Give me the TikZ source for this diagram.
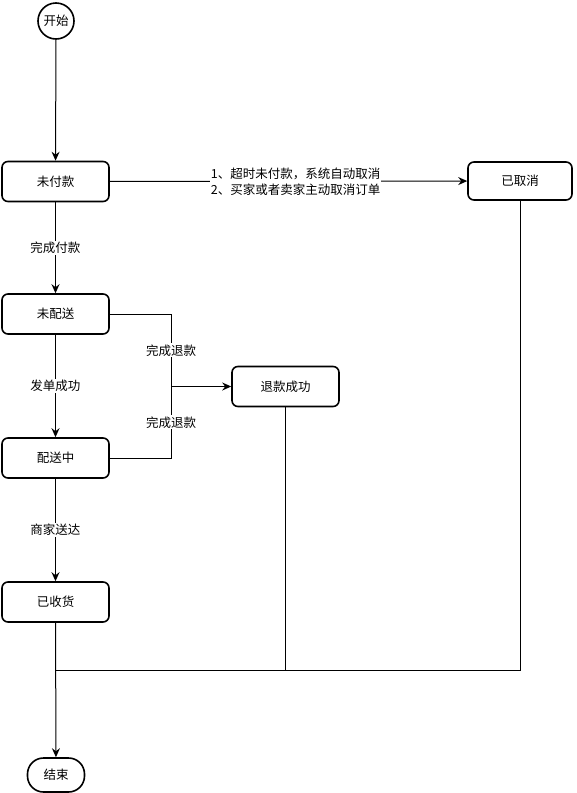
\documentclass[tikz,border=0pt]{standalone}
\usepackage{fontspec}
\setmainfont{Noto Sans CJK SC}
\usetikzlibrary{arrows.meta}
\begin{document}
\begin{tikzpicture} [
  x=1pt, y=-1pt,
  font=\fontsize{12.5}{16}\selectfont,
  state node/.style= {draw,line width=1.6pt,rounded corners=6pt,minimum width=107pt,minimum height=40pt},
  start node/.style= {draw,line width=1.6pt,circle,minimum size=36pt,inner sep=0},
  end node/.style= {draw,line width=1.6pt,rounded corners=16pt,minimum width=57pt,minimum height=34pt},
  flow/.style= {line width=1pt,-{Stealth[length=9pt,width=8pt,inset=3pt]}},
  link/.style= {line width=1pt},
  lbl/.style= {fill=white,inner sep=1pt},
]
\useasboundingbox (0,0) rectangle (576,793);
\node (S) [start node] at (56,21) {开始};
\node (A1) [state node] at (55.5,181.5) {未付款};
\node (C) [state node,minimum width=104pt,minimum height=38pt] at (520,181) {已取消};
\node (A2) [state node] at (55.5,314) {未配送};
\node (A3) [state node] at (55.5,458) {配送中};
\node (R) [state node] at (285.5,386.5) {退款成功};
\node (A4) [state node] at (55.5,602) {已收货};
\node (E) [end node] at (56,775) {结束};
\coordinate (J) at (171,386.5);
\coordinate (M) at (56,670);

\draw [flow] (S) -- (A1);
\draw [flow] (A1) -- node [lbl,pos=0.52,align=left] {1、超时未付款，系统自动取消\\2、买家或者卖家主动取消订单} (C);
\draw [flow] (A1) -- node [lbl] {完成付款} (A2);
\draw [flow] (A2) -- node [lbl] {发单成功} (A3);
\draw [flow] (A3) -- node [lbl] {商家送达} (A4);
\draw [link] (A2) -| node [lbl,pos=0.75] {完成退款} (J);
\draw [link] (A3) -| node [lbl,pos=0.75] {完成退款} (J);
\draw [flow] (J) -- (R);
\draw [link] (R) |- (M);
\draw [link] (C) |- (M);
\draw [flow] (A4) -- (E);

\end{tikzpicture}
\end{document}
